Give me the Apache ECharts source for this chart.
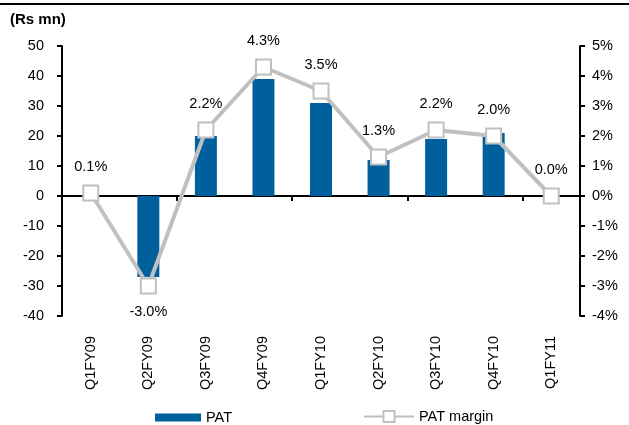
<!DOCTYPE html>
<html lang="en">
<head>
	<meta charset="UTF-8">
	<title>PAT</title>
	<style>
		* {
			margin: 0;
			padding: 0;
		}

		#box {
			width: 629px;
			height: 425px;
		}
	</style>
	<script src="https://cdn.jsdelivr.net/npm/echarts@6/dist/echarts.min.js"></script>
</head>
<body>
<div id="box"></div>
</body>
<script>
	// 数据
	const quarters = ['Q1FY09', 'Q2FY09', 'Q3FY09', 'Q4FY09', 'Q1FY10', 'Q2FY10', 'Q3FY10', 'Q4FY10', 'Q1FY11'];
	const pat = [0, -27, 20, 39, 31, 12, 19, 21, 0];
	const patMargin = [0.1, -3.0, 2.2, 4.3, 3.5, 1.3, 2.2, 2.0, 0.0];

	const font = 'Liberation Sans';
	const fs = 14.5;
	const myEcharts = echarts.init(document.getElementById('box'));

	myEcharts.setOption({
		animation: false,
		textStyle: {fontFamily: font},
		grid: {left: 62, right: 49, top: 46, bottom: 109},
		graphic: [
			{
				type: 'rect',
				shape: {x: 0, y: 3, width: 629, height: 2},
				style: {fill: '#000'},
			},
			{
				type: 'text',
				left: 10,
				top: 12,
				style: {text: '(Rs mn)', font: 'bold 15px ' + font, fill: '#000'},
			},
		],
		legend: [
			{
				left: 150,
				top: 405,
				itemWidth: 46,
				itemHeight: 8,
				textStyle: {fontSize: fs, color: '#000'},
				data: [{name: 'PAT', icon: 'rect'}],
			},
			{
				left: 358,
				top: 404,
				itemWidth: 50,
				itemHeight: 14,
				textStyle: {fontSize: fs, color: '#000'},
				data: ['PAT margin'],
			},
		],
		xAxis: [
			{
				type: 'category',
				data: quarters,
				position: 'bottom',
				axisLine: {show: false},
				axisTick: {show: false},
				axisLabel: {rotate: 90, margin: 20, fontSize: fs, color: '#000'},
			},
			{
				type: 'category',
				data: quarters,
				position: 'bottom',
				axisLine: {onZero: true, lineStyle: {color: '#000', width: 2}},
				axisTick: {show: true, length: 5, lineStyle: {color: '#000', width: 2}},
				axisLabel: {show: false},
			},
		],
		yAxis: [
			{
				type: 'value',
				min: -40,
				max: 50,
				interval: 10,
				splitLine: {show: false},
				axisLine: {show: true, onZero: false, lineStyle: {color: '#000', width: 2}},
				axisTick: {show: true, length: 5, lineStyle: {color: '#000', width: 2}},
				axisLabel: {fontSize: fs, color: '#000', margin: 18},
			},
			{
				type: 'value',
				min: -4,
				max: 5,
				interval: 1,
				splitLine: {show: false},
				axisLine: {show: true, onZero: false, lineStyle: {color: '#000', width: 2}},
				axisTick: {show: true, length: 5, lineStyle: {color: '#000', width: 2}},
				axisLabel: {fontSize: fs, color: '#000', margin: 12, formatter: '{value}%'},
			},
		],
		series: [
			{
				name: 'PAT',
				type: 'bar',
				data: pat,
				barWidth: 22,
				itemStyle: {color: '#00609e'},
			},
			{
				name: 'PAT margin',
				type: 'line',
				yAxisIndex: 1,
				data: patMargin.map(function (v) {
					return {
						value: v,
						label: {position: v < 0 ? 'bottom' : 'top'},
					};
				}),
				symbol: 'rect',
				symbolSize: 15,
				lineStyle: {color: '#c0c0c0', width: 4},
				itemStyle: {color: '#fff', borderColor: '#c0c0c0', borderWidth: 2},
				label: {
					show: true,
					fontSize: fs,
					color: '#000',
					distance: 10,
					formatter: function (p) {
						return p.value.toFixed(1) + '%';
					},
				},
			},
		],
	});
</script>
</html>
